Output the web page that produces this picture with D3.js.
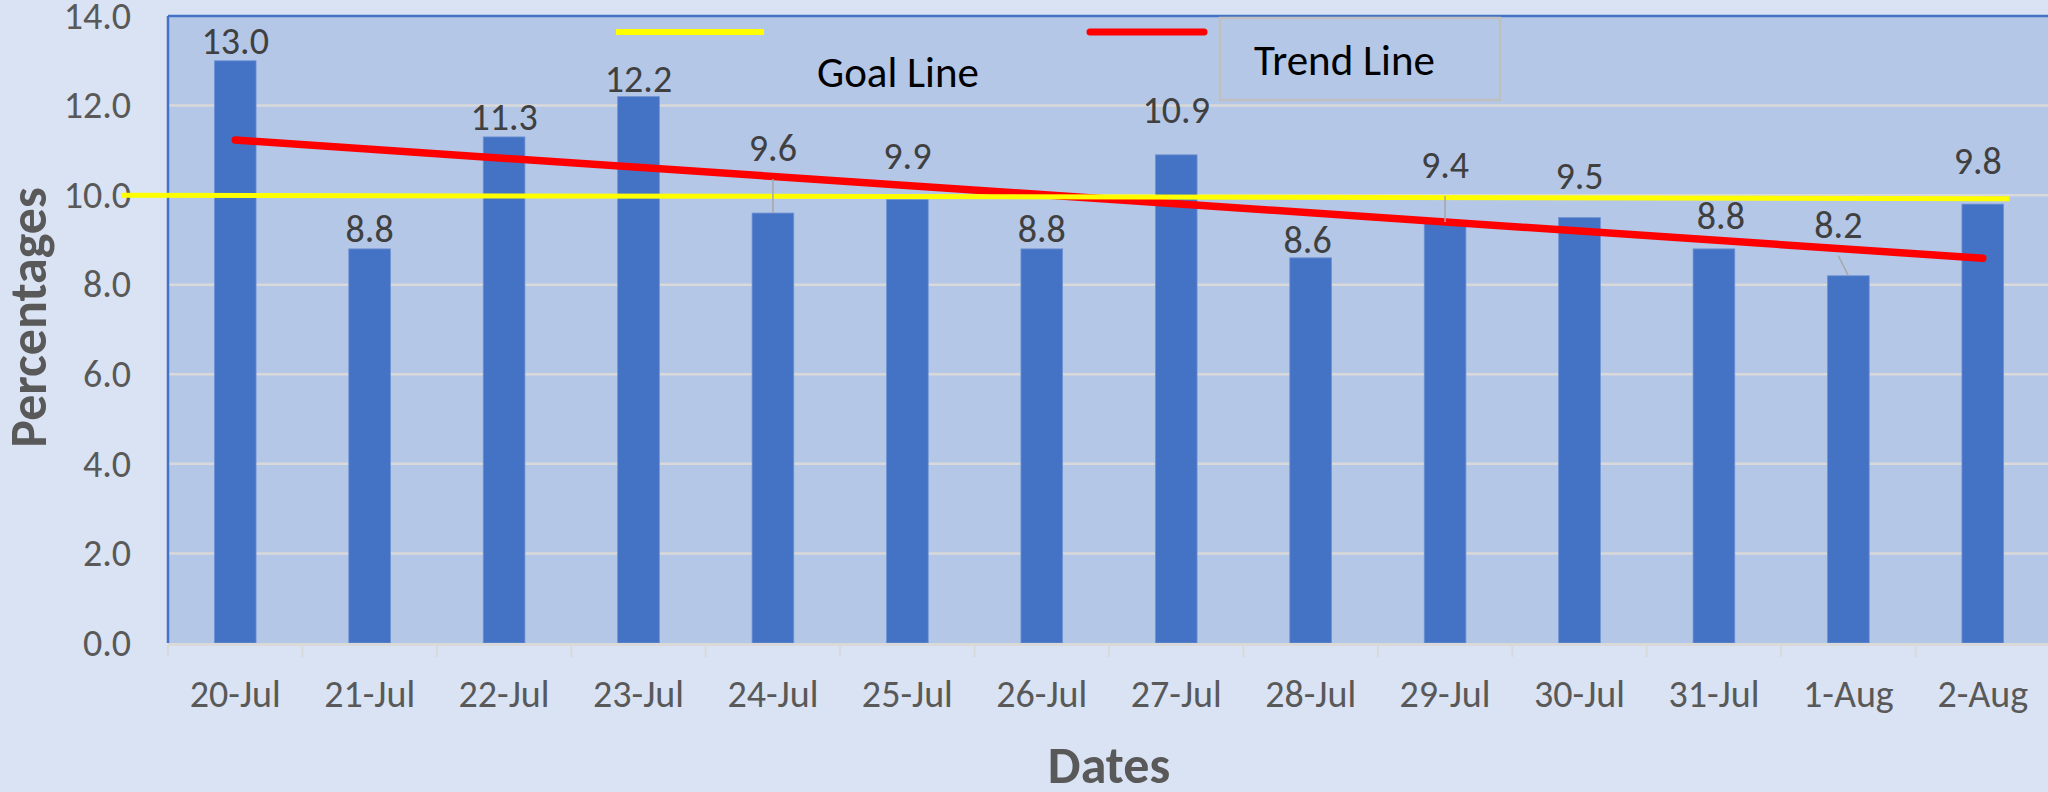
<!DOCTYPE html>
<html>
<head>
<meta charset="utf-8">
<script src="https://cdn.jsdelivr.net/npm/d3@7/dist/d3.min.js"></script>
<style>
  html, body { margin: 0; padding: 0; background: #dae3f3; }
  svg { display: block; }
  text { font-family: Carlito, Calibri, "Liberation Sans Narrow", "Open Sans", sans-serif; }
</style>
</head>
<body>
<svg id="chart" width="2048" height="792"></svg>
<script>
// ---- data ----
const categories = ["20-Jul","21-Jul","22-Jul","23-Jul","24-Jul","25-Jul","26-Jul","27-Jul","28-Jul","29-Jul","30-Jul","31-Jul","1-Aug","2-Aug"];
const values = [13.0, 8.8, 11.3, 12.2, 9.6, 9.9, 8.8, 10.9, 8.6, 9.4, 9.5, 8.8, 8.2, 9.8];
const yTickValues = [0, 2, 4, 6, 8, 10, 12, 14];
const goalLine = [10.0, 9.92];      // goal line value at its left end and its right end
const trendLine = [11.23, 8.59];    // trend line value at first and last date
const legendLabels = ["Goal Line", "Trend Line"];
const yTitle = "Percentages";
const xTitle = "Dates";
// manually moved data labels (pixel nudges) and which ones have leader lines
const labelNudgeY = [0, 0, 0, 2, -45, -24, 0, -25, 2, -37, -22, -13, -31, -23];
const labelNudgeX = [0, 0, 0, 0, 0, 0, 0, 0, -3, 0, 0, 7, -10, -5];
const leaderLabels = ["24-Jul", "29-Jul", "1-Aug"];

// ---- layout ----
const W = 2048, H = 792;
const plot = { left: 168, top: 16, right: 2050, bottom: 643 };
const FONT = "Carlito, Calibri, 'Liberation Sans Narrow', 'Open Sans', sans-serif";
const svg = d3.select("#chart");

const xCell = d3.scaleBand().domain(categories).range([plot.left, plot.right]).padding(0);
const barFrac = 0.31;
const barW = xCell.bandwidth() * barFrac;
const cx = c => xCell(c) + xCell.bandwidth() / 2;
const y = d3.scaleLinear().domain([0, 14]).range([plot.bottom, plot.top]);

// background
svg.append("rect").attr("x", 0).attr("y", 0).attr("width", W).attr("height", H).attr("fill", "#dae3f3");
// plot area
svg.append("rect").attr("x", plot.left).attr("y", plot.top)
  .attr("width", plot.right - plot.left).attr("height", plot.bottom - plot.top)
  .attr("fill", "#b4c7e7");

// gridlines
svg.append("g").selectAll("line").data(yTickValues.filter(v => v > 0 && v < 14)).join("line")
  .attr("x1", plot.left).attr("x2", plot.right)
  .attr("y1", d => y(d)).attr("y2", d => y(d))
  .attr("stroke", "#d9d9d9").attr("stroke-width", 2.5);

// plot border: left and top in blue
svg.append("line").attr("x1", plot.left).attr("x2", plot.left).attr("y1", plot.top).attr("y2", plot.bottom)
  .attr("stroke", "#4472c4").attr("stroke-width", 2.5);
svg.append("line").attr("x1", plot.left).attr("x2", plot.right).attr("y1", plot.top).attr("y2", plot.top)
  .attr("stroke", "#4472c4").attr("stroke-width", 2.5);

// y axis labels
const yAxis = d3.axisLeft(y).tickValues(yTickValues).tickFormat(d3.format(".1f")).tickSize(0).tickPadding(0);
const gy = svg.append("g").attr("transform", `translate(131,0)`).call(yAxis);
gy.select(".domain").remove();
gy.selectAll("text").attr("font-size", 38).attr("fill", "#595959").style("font-family", FONT);

// bars
svg.append("g").selectAll("rect").data(values).join("rect")
  .attr("x", (d, i) => cx(categories[i]) - barW / 2)
  .attr("width", barW)
  .attr("y", d => y(d))
  .attr("height", d => y(0) - y(d))
  .attr("fill", "#4472c4")
  .attr("stroke", "#6f93d3").attr("stroke-width", 0.8);

// x axis line and boundary ticks
svg.append("line").attr("x1", plot.left).attr("x2", plot.right).attr("y1", plot.bottom + 1.5).attr("y2", plot.bottom + 1.5)
  .attr("stroke", "#d9d9d9").attr("stroke-width", 3);
svg.append("g").selectAll("line").data(categories).join("line")
  .attr("x1", d => xCell(d)).attr("x2", d => xCell(d))
  .attr("y1", plot.bottom + 2).attr("y2", plot.bottom + 14)
  .attr("stroke", "#d9d9d9").attr("stroke-width", 2);

// x axis labels
const xAxis = d3.axisBottom(xCell).tickSize(0).tickPadding(0);
const gx = svg.append("g").attr("transform", `translate(0,${plot.bottom + 45})`).call(xAxis);
gx.select(".domain").remove();
gx.selectAll("text").attr("font-size", 38).attr("fill", "#595959").attr("dy", "0.5em").style("font-family", FONT);

// trend line (red)
svg.append("line")
  .attr("x1", cx(categories[0])).attr("y1", y(trendLine[0]))
  .attr("x2", cx(categories[categories.length - 1])).attr("y2", y(trendLine[1]))
  .attr("stroke", "#ff0000").attr("stroke-width", 7.5).attr("stroke-linecap", "round");

// goal line (yellow)
const lastC = categories[categories.length - 1];
svg.append("line")
  .attr("x1", plot.left - 46).attr("y1", y(goalLine[0]))
  .attr("x2", cx(lastC) + barW / 2 + 6).attr("y2", y(goalLine[1]))
  .attr("stroke", "#ffff00").attr("stroke-width", 5);

// data labels
const labelGap = 7;
const lbl = values.map((v, i) => ({
  v, c: categories[i],
  x: cx(categories[i]) + labelNudgeX[i],
  yb: y(v) - labelGap + labelNudgeY[i]
}));
svg.append("g").selectAll("line").data(lbl.filter(d => leaderLabels.includes(d.c))).join("line")
  .attr("x1", d => d.x).attr("y1", d => d.yb + 18)
  .attr("x2", d => cx(d.c)).attr("y2", d => y(d.v))
  .attr("stroke", "#a6a6a6").attr("stroke-width", 1.5);
svg.append("g").selectAll("text").data(lbl).join("text")
  .attr("x", d => d.x).attr("y", d => d.yb)
  .attr("text-anchor", "middle").attr("font-size", 38).attr("fill", "#404040")
  .text(d => d3.format(".1f")(d.v));

// legend: goal line
svg.append("line").attr("x1", 616).attr("x2", 764).attr("y1", 32).attr("y2", 32)
  .attr("stroke", "#ffff00").attr("stroke-width", 6);
svg.append("text").attr("x", 817).attr("y", 87).attr("font-size", 43).attr("fill", "#000")
  .text(legendLabels[0]);
// legend: trend line
svg.append("line").attr("x1", 1090).attr("x2", 1204).attr("y1", 32).attr("y2", 32)
  .attr("stroke", "#ff0000").attr("stroke-width", 7).attr("stroke-linecap", "round");
svg.append("rect").attr("x", 1220).attr("y", 18).attr("width", 280).attr("height", 82)
  .attr("fill", "#b4c7e7").attr("stroke", "#bfbfbf").attr("stroke-width", 2.5);
svg.append("text").attr("x", 1254).attr("y", 75).attr("font-size", 43).attr("fill", "#000")
  .text(legendLabels[1]);

// axis titles
svg.append("text").attr("transform", `translate(46,${(plot.top + plot.bottom) / 2 - 12}) rotate(-90)`)
  .attr("text-anchor", "middle").attr("font-size", 52).attr("font-weight", "bold").attr("fill", "#595959")
  .text(yTitle);
svg.append("text").attr("x", (plot.left + plot.right) / 2).attr("y", 783)
  .attr("text-anchor", "middle").attr("font-size", 52).attr("font-weight", "bold").attr("fill", "#595959")
  .text(xTitle);
</script>
</body>
</html>
